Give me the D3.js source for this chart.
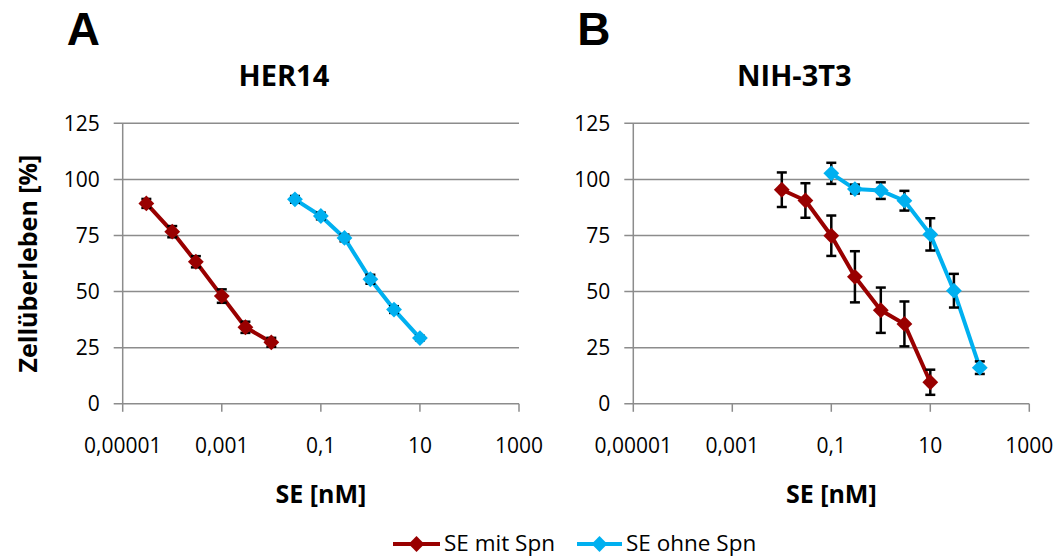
<!DOCTYPE html>
<html>
<head>
<meta charset="utf-8">
<script src="https://cdn.jsdelivr.net/npm/d3@7"></script>
<style>
  body { margin: 0; background: #fff; }
  svg { font-family: "Open Sans", sans-serif; }
</style>
</head>
<body>
<div id="chart"></div>
<script>
(function(){
  'use strict';

  // tick values / labels (log axis, German decimal comma)
  var xTicks = [1e-5, 1e-3, 0.1, 10, 1000],
      xTickLabels = ["0,00001", "0,001", "0,1", "10", "1000"],
      yTicks = [0, 25, 50, 75, 100, 125];

  // HER14
  var concA_mit = [3e-5, 1e-4, 3e-4, 1e-3, 3e-3, 1e-2],
      valA_mit = [89.3, 76.7, 63.3, 48.0, 34.1, 27.4],
      errA_mit = [2, 2.5, 2.5, 3, 2.5, 2];
  var concA_ohne = [0.03, 0.1, 0.3, 1, 3, 10],
      valA_ohne = [91.1, 83.7, 73.9, 55.5, 42.0, 29.3],
      errA_ohne = [1.5, 1.5, 1.5, 2, 1.5, 1];

  // NIH-3T3
  var concB_mit = [0.01, 0.03, 0.1, 0.3, 1, 3, 10],
      valB_mit = [95.4, 90.6, 74.9, 56.6, 41.7, 35.6, 9.6],
      errB_mit = [7.7, 7.7, 9, 11.4, 10.1, 10, 5.6];
  var concB_ohne = [0.1, 0.3, 1, 3, 10, 30, 100],
      valB_ohne = [102.7, 95.7, 95.0, 90.5, 75.5, 50.4, 16.1],
      errB_ohne = [4.7, 2, 3.7, 4.4, 7.2, 7.5, 2.8];

  var seriesNames = ["SE mit Spn", "SE ohne Spn"],
      colors = ["#990000", "#00b0f0"];

  var width = 1057, height = 557;

  var svg = d3.select("#chart").append("svg")
      .attr("width", width)
      .attr("height", height);

  function zip(xs, ys, es){
    return xs.map(function(x, i){ return {x: x, y: ys[i], e: es[i]}; });
  }

  var panels = [
    {letter: "A", title: "HER14", left: 122.7, right: 519, yLabel: "Zellüberleben [%]",
     series: [zip(concA_mit, valA_mit, errA_mit), zip(concA_ohne, valA_ohne, errA_ohne)]},
    {letter: "B", title: "NIH-3T3", left: 633.3, right: 1029.3, yLabel: null,
     series: [zip(concB_mit, valB_mit, errB_mit), zip(concB_ohne, valB_ohne, errB_ohne)]}
  ];

  var top = 123.3, bottom = 403.8;
  var diamond = d3.symbol().type(d3.symbolSquare).size(125);

  panels.forEach(function(p){
    var x = d3.scaleLog().domain([1e-5, 1000]).range([p.left, p.right]),
        y = d3.scaleLinear().domain([0, 125]).range([bottom, top]);

    var g = svg.append("g");

    // gridlines + y ticks
    g.selectAll(".grid")
      .data(yTicks)
      .enter().append("line")
      .attr("x1", p.left - 9)
      .attr("x2", p.right)
      .attr("y1", function(d){ return y(d); })
      .attr("y2", function(d){ return y(d); })
      .style("stroke", "#8c8c8c")
      .style("stroke-width", 1.5);

    g.selectAll(".ylab")
      .data(yTicks)
      .enter().append("text")
      .attr("x", p.left - 23)
      .attr("y", function(d){ return y(d); })
      .attr("dy", "0.36em")
      .attr("text-anchor", "end")
      .style("font-size", "21px")
      .style("fill", "#000")
      .text(function(d){ return d; });

    // y axis line
    g.append("line")
      .attr("x1", p.left).attr("x2", p.left)
      .attr("y1", top).attr("y2", bottom)
      .style("stroke", "#8c8c8c")
      .style("stroke-width", 1.5);

    // x ticks
    g.selectAll(".xtick")
      .data(xTicks)
      .enter().append("line")
      .attr("x1", function(d){ return x(d); })
      .attr("x2", function(d){ return x(d); })
      .attr("y1", bottom)
      .attr("y2", bottom + 8)
      .style("stroke", "#8c8c8c")
      .style("stroke-width", 1.5);

    g.selectAll(".xlab")
      .data(xTicks)
      .enter().append("text")
      .attr("x", function(d){ return x(d); })
      .attr("y", 453)
      .attr("text-anchor", "middle")
      .style("font-size", "21px")
      .text(function(d, i){ return xTickLabels[i]; });

    // titles
    svg.append("text")
      .attr("x", p.left - 56)
      .attr("y", 45)
      .style("font-family", "'Liberation Sans', Arial, sans-serif")
      .style("font-weight", "bold")
      .style("font-size", "46px")
      .text(p.letter);

    svg.append("text")
      .attr("x", (p.left + p.right) / 2 - 37)
      .attr("y", 86)
      .attr("text-anchor", "middle")
      .style("font-weight", "bold")
      .style("font-size", "29px")
      .text(p.title);

    svg.append("text")
      .attr("x", (p.left + p.right) / 2)
      .attr("y", 503)
      .attr("text-anchor", "middle")
      .style("font-weight", "bold")
      .style("font-size", "25px")
      .text("SE [nM]");

    if (p.yLabel) {
      svg.append("text")
        .attr("transform", "translate(37," + ((top + bottom) / 2) + ") rotate(-90)")
        .attr("text-anchor", "middle")
        .style("font-weight", "bold")
        .style("font-size", "25px")
        .text(p.yLabel);
    }

    var line = d3.line()
      .x(function(d){ return x(d.x); })
      .y(function(d){ return y(d.y); });

    p.series.forEach(function(s, si){
      g.append("path")
        .datum(s)
        .attr("d", line)
        .style("fill", "none")
        .style("stroke", colors[si])
        .style("stroke-width", 4)
        .style("stroke-linejoin", "round");

      var eb = g.selectAll(".eb" + si)
        .data(s)
        .enter().append("g");

      eb.append("line")
        .attr("x1", function(d){ return x(d.x); })
        .attr("x2", function(d){ return x(d.x); })
        .attr("y1", function(d){ return y(d.y - d.e); })
        .attr("y2", function(d){ return y(d.y + d.e); })
        .style("stroke", "#000")
        .style("stroke-width", 2.5);

      [-1, 1].forEach(function(sign){
        eb.append("line")
          .attr("x1", function(d){ return x(d.x) - 5; })
          .attr("x2", function(d){ return x(d.x) + 5; })
          .attr("y1", function(d){ return y(d.y + sign * d.e); })
          .attr("y2", function(d){ return y(d.y + sign * d.e); })
          .style("stroke", "#000")
          .style("stroke-width", 2.5);
      });

      g.selectAll(".mk" + si)
        .data(s)
        .enter().append("path")
        .attr("d", diamond)
        .attr("transform", function(d){
          return "translate(" + x(d.x) + "," + y(d.y) + ") rotate(45)";
        })
        .style("fill", colors[si]);
    });
  });

  // legend
  var legendItems = [
    {x0: 393, x1: 440, tx: 444},
    {x0: 577, x1: 622, tx: 626}
  ];
  var lg = svg.append("g");
  legendItems.forEach(function(l, i){
    lg.append("line")
      .attr("x1", l.x0).attr("x2", l.x1)
      .attr("y1", 544).attr("y2", 544)
      .style("stroke", colors[i])
      .style("stroke-width", 4);
    lg.append("path")
      .attr("d", diamond)
      .attr("transform", "translate(" + ((l.x0 + l.x1) / 2) + ",544) rotate(45)")
      .style("fill", colors[i]);
    lg.append("text")
      .attr("x", l.tx)
      .attr("y", 551)
      .style("font-size", "22.5px")
      .text(seriesNames[i]);
  });
})();
</script>
</body>
</html>
